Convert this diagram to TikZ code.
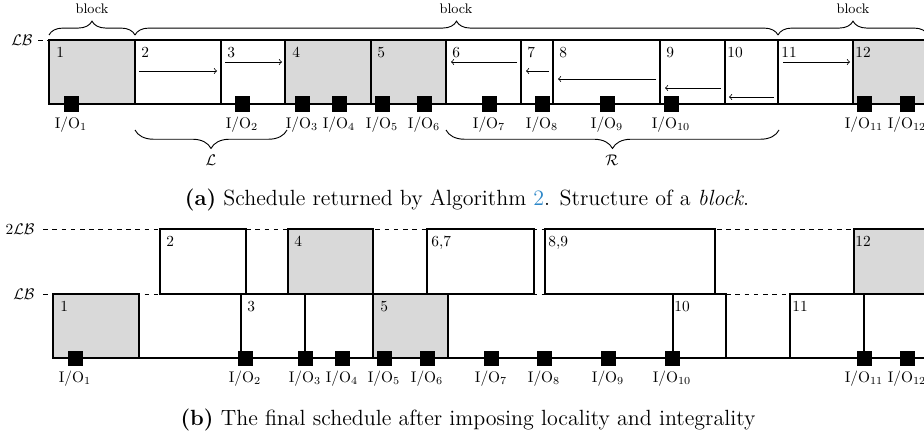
\documentclass[tikz,border=0pt]{standalone}
\usepackage{amsmath,amsfonts}
\usepackage{tikz}
\usetikzlibrary{arrows,positioning,decorations.pathreplacing}
\usepackage{xcolor}
\definecolor{linkblue}{RGB}{45,135,200}
\colorlet{busy}{gray!30}
\tikzset{
  sched/.style={draw, line width=0.8pt},
  busybox/.style={sched, fill=busy},
  freebox/.style={sched, fill=white},
  tasknum/.style={anchor=north west, inner sep=0pt},
  iobox/.style={fill=black, inner sep=0pt, minimum size=9.75pt},
  iolabel/.style={inner sep=1pt},
  mv/.style={->, line width=0.5pt},
  upbrace/.style={decorate, decoration={brace, amplitude=9pt}, line width=0.6pt},
  downbrace/.style={decorate, decoration={brace, mirror, amplitude=12pt}, line width=0.6pt},
  capt/.style={font=\fontsize{14.3}{17}\selectfont},
}

\begin{document}
\begin{tikzpicture}[x=0.65pt, y=-0.65pt] % {{{
		\useasboundingbox (0,0) rectangle (924,439);
		\begin{scope} % (a) structure of a block {{{
		\node[anchor=east] (lba) at (38,40) {$\mathcal{LB}$} ;
		\draw[dashed] (lba.east) -- (49,40);
		% boxes
		\draw[busybox] (49,40) rectangle (135,104); \node[tasknum] (a1) at (56,47) {1} ;
		\draw[freebox] (135,40) rectangle (221,104); \node[tasknum] (a2) at (141,47) {2} ;
		\draw[freebox] (221,40) rectangle (285,104); \node[tasknum] (a3) at (227,47) {3} ;
		\draw[busybox] (285,40) rectangle (371,104); \node[tasknum] (a4) at (292,47) {4} ;
		\draw[busybox] (371,40) rectangle (446,104); \node[tasknum] (a5) at (377,47) {5} ;
		\draw[freebox] (446,40) rectangle (521,104); \node[tasknum] (a6) at (452,47) {6} ;
		\draw[freebox] (521,40) rectangle (553,104); \node[tasknum] (a7) at (527,47) {7} ;
		\draw[freebox] (553,40) rectangle (660,104); \node[tasknum] (a8) at (559,47) {8} ;
		\draw[freebox] (660,40) rectangle (725,104); \node[tasknum] (a9) at (666,47) {9} ;
		\draw[freebox] (725,40) rectangle (778,104); \node[tasknum] (a10) at (727,47) {10} ;
		\draw[freebox] (778,40) rectangle (853,104); \node[tasknum] (a11) at (781,47) {11} ;
		\draw[busybox] (853,40) rectangle (935,104); \node[tasknum] (a12) at (855,47) {12} ;
		% moves
		\draw[mv] (139,71) -- (217,71);
		\draw[mv] (225,62) -- (282,62);
		\draw[mv] (517,62) -- (451,62);
		\draw[mv] (549,71) -- (526,71);
		\draw[mv] (656,79) -- (558,79);
		\draw[mv] (721,88) -- (665,88);
		\draw[mv] (774,97) -- (729,97);
		\draw[mv] (783,62) -- (850,62);
		% I/O
		\node[iobox] (ioa1) at (71,104) {}; \node[iolabel, below=2pt of ioa1] (ioa1l) {I/O$_{1}$};
		\node[iobox] (ioa2) at (242,104) {}; \node[iolabel, below=2pt of ioa2] (ioa2l) {I/O$_{2}$};
		\node[iobox] (ioa3) at (302,104) {}; \node[iolabel, below=2pt of ioa3] (ioa3l) {I/O$_{3}$};
		\node[iobox] (ioa4) at (339,104) {}; \node[iolabel, below=2pt of ioa4] (ioa4l) {I/O$_{4}$};
		\node[iobox] (ioa5) at (382,104) {}; \node[iolabel, below=2pt of ioa5] (ioa5l) {I/O$_{5}$};
		\node[iobox] (ioa6) at (424,104) {}; \node[iolabel, below=2pt of ioa6] (ioa6l) {I/O$_{6}$};
		\node[iobox] (ioa7) at (489,104) {}; \node[iolabel, below=2pt of ioa7] (ioa7l) {I/O$_{7}$};
		\node[iobox] (ioa8) at (542,104) {}; \node[iolabel, below=2pt of ioa8] (ioa8l) {I/O$_{8}$};
		\node[iobox] (ioa9) at (607,104) {}; \node[iolabel, below=2pt of ioa9] (ioa9l) {I/O$_{9}$};
		\node[iobox] (ioa10) at (671,104) {}; \node[iolabel, below=2pt of ioa10] (ioa10l) {I/O$_{10}$};
		\node[iobox] (ioa11) at (864,104) {}; \node[iolabel, below=2pt of ioa11] (ioa11l) {I/O$_{11}$};
		\node[iobox] (ioa12) at (907,104) {}; \node[iolabel, below=2pt of ioa12] (ioa12l) {I/O$_{12}$};
		% braces
		\draw[upbrace] (49,35) -- (135,35); \node[font=\small] (blka) at (92,9) {block} ;
		\draw[upbrace] (135,35) -- (778,35); \node[font=\small] (blkb) at (456,9) {block} ;
		\draw[upbrace] (778,35) -- (928,35); \node[font=\small] (blkc) at (853,9) {block} ;
		\draw[downbrace] (135,130) -- (287,130); \node (setl) at (211,160) {$\mathcal{L}$} ;
		\draw[downbrace] (446,130) -- (779,130); \node (setr) at (612,160) {$\mathcal{R}$} ;
		\node[capt] (capa) at (467,200) {\textbf{(a)} Schedule returned by Algorithm {\color{linkblue}2}. Structure of a \textit{block}.} ;
		\end{scope} % }}}
		\begin{scope} % (b) locality and integrality {{{
		\node[anchor=east] (lbb2) at (40,229) {$2\mathcal{LB}$} ;
		\node[anchor=east] (lbb1) at (40,294) {$\mathcal{LB}$} ;
		\draw[dashed] ([xshift=2pt]lbb2.east) -- (935,229);
		\draw[dashed] ([xshift=2pt]lbb1.east) -- (935,294);
		\draw[sched] (53,358) -- (935,358);
		\draw[busybox] (53,294) rectangle (139,358); \node[tasknum] (b1) at (60,301) {1} ;
		\draw[freebox] (160,229) rectangle (246,294); \node[tasknum] (b2) at (166,236) {2} ;
		\draw[freebox] (241,294) rectangle (305,358); \node[tasknum] (b3) at (247,301) {3} ;
		\draw[busybox] (288,229) rectangle (373,294); \node[tasknum] (b4) at (294,236) {4} ;
		\draw[busybox] (373,294) rectangle (448,358); \node[tasknum] (b5) at (380,301) {5} ;
		\draw[freebox] (427,229) rectangle (534,294); \node[tasknum] (b67) at (431,236) {6,7} ;
		\draw[freebox] (545,229) rectangle (715,294); \node[tasknum] (b89) at (548,236) {8,9} ;
		\draw[freebox] (673,294) rectangle (726,358); \node[tasknum] (b10) at (674,301) {10} ;
		\draw[freebox] (790,294) rectangle (864,358); \node[tasknum] (b11) at (792,301) {11} ;
		\draw[busybox] (854,229) rectangle (935,294); \node[tasknum] (b12) at (855,236) {12} ;
		% I/O
		\node[iobox] (iob1) at (75,358) {}; \node[iolabel, below=2pt of iob1] (iob1l) {I/O$_{1}$};
		\node[iobox] (iob2) at (245,358) {}; \node[iolabel, below=2pt of iob2] (iob2l) {I/O$_{2}$};
		\node[iobox] (iob3) at (305,358) {}; \node[iolabel, below=2pt of iob3] (iob3l) {I/O$_{3}$};
		\node[iobox] (iob4) at (342,358) {}; \node[iolabel, below=2pt of iob4] (iob4l) {I/O$_{4}$};
		\node[iobox] (iob5) at (384,358) {}; \node[iolabel, below=2pt of iob5] (iob5l) {I/O$_{5}$};
		\node[iobox] (iob6) at (427,358) {}; \node[iolabel, below=2pt of iob6] (iob6l) {I/O$_{6}$};
		\node[iobox] (iob7) at (491,358) {}; \node[iolabel, below=2pt of iob7] (iob7l) {I/O$_{7}$};
		\node[iobox] (iob8) at (544,358) {}; \node[iolabel, below=2pt of iob8] (iob8l) {I/O$_{8}$};
		\node[iobox] (iob9) at (608,358) {}; \node[iolabel, below=2pt of iob9] (iob9l) {I/O$_{9}$};
		\node[iobox] (iob10) at (672,358) {}; \node[iolabel, below=2pt of iob10] (iob10l) {I/O$_{10}$};
		\node[iobox] (iob11) at (864,358) {}; \node[iolabel, below=2pt of iob11] (iob11l) {I/O$_{11}$};
		\node[iobox] (iob12) at (907,358) {}; \node[iolabel, below=2pt of iob12] (iob12l) {I/O$_{12}$};
		\node[capt] (capb) at (468,420) {\textbf{(b)} The final schedule after imposing locality and integrality} ;
		\end{scope} % }}}
\end{tikzpicture} % }}}
\end{document}
